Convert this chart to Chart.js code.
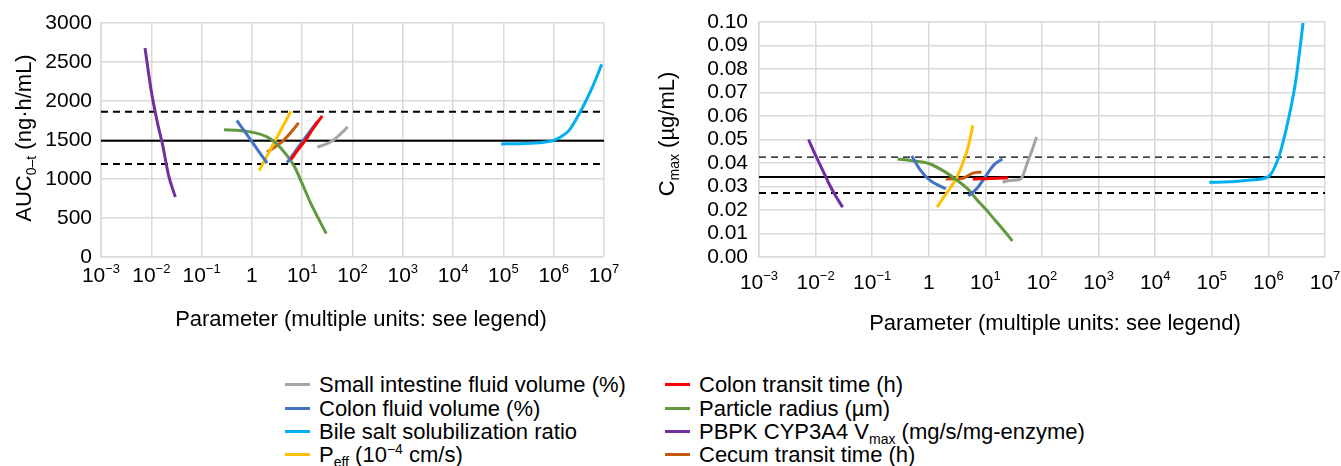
<!DOCTYPE html>
<html>
<head>
<meta charset="utf-8">
<script src="https://cdn.jsdelivr.net/npm/chart.js@4.4.1/dist/chart.umd.min.js"></script>
<style>
  html, body { margin: 0; padding: 0; background: #fff; }
  body { width: 1341px; height: 466px; position: relative; overflow: hidden;
         font-family: 'Liberation Sans', Arial, sans-serif; color: #000; }
  #auc-chart { position: absolute; left: 0; top: 0; }
  #cmax-chart { position: absolute; left: 650px; top: 0; }
  .legend-item { position: absolute; height: 23.3px; line-height: 23.3px; font-size: 22px;
                 padding-left: 34px; white-space: nowrap; }
  .legend-item .swatch { position: absolute; left: 0; top: 10px; width: 25px; height: 3px; }
  sub, sup { font-size: 14px; line-height: 0; }
</style>
</head>
<body>
<canvas id="auc-chart" width="650" height="360"></canvas>
<canvas id="cmax-chart" width="691" height="360"></canvas>
<div id="legend"></div>
<script>
// axis ticks
const xTicks = [1e-3, 1e-2, 1e-1, 1, 1e1, 1e2, 1e3, 1e4, 1e5, 1e6, 1e7];
const xTickExps = [-3, -2, -1, 0, 1, 2, 3, 4, 5, 6, 7];
const yTicksAuc = [0, 500, 1000, 1500, 2000, 2500, 3000];
const yTicksCmax = [0, 0.01, 0.02, 0.03, 0.04, 0.05, 0.06, 0.07, 0.08, 0.09, 0.1];

// reference lines: lower bound, baseline, upper bound
const aucRefLines = [1192, 1490, 1862];
const cmaxRefLines = [0.0272, 0.034, 0.0425];

// parameter values and results per series
const xSmallInt = [20, 28, 40, 45, 56, 68, 80];
const aucSmallInt = [1410, 1440, 1490, 1515, 1570, 1620, 1670];
const cmaxSmallInt = [0.0319, 0.0326, 0.0330, 0.0342, 0.0406, 0.0460, 0.0511];

const xColonTransit = [6, 8, 12, 16, 25];
const aucColonTransit = [1250, 1363, 1510, 1635, 1810];
const cmaxColonTransit = [0.0332, 0.0333, 0.0334, 0.0335, 0.0336];

const xColonFluid = [0.5, 0.7, 1, 1.4, 2, 3, 5, 7, 10, 14, 20];
const aucColonFluid = [1750, 1620, 1480, 1345, 1205, null, 1209, 1338, 1475, 1603, 1740];
const cmaxColonFluid = [0.0430, 0.0372, 0.0330, 0.0308, 0.0290, null, 0.0260, 0.0290, 0.0342, 0.0391, 0.0417];

const xParticle = [0.28, 0.5, 1, 2, 3, 5, 7, 10, 15, 20, 30];
const aucParticle = [1630, 1625, 1600, 1540, 1460, 1300, 1160, 940, 680, 520, 300];
const cmaxParticle = [0.0417, 0.0410, 0.0398, 0.0360, 0.0330, 0.0287, 0.0245, 0.0205, 0.0155, 0.0120, 0.0068];

const xBile = [9e4, 2e5, 5e5, 1e6, 1.5e6, 2e6, 3e6, 4.1e6, 6e6, 9e6];
const aucBile = [1450, 1452, 1465, 1495, 1555, 1620, 1800, 1965, 2190, 2470];
const cmaxBile = [0.0318, 0.0320, 0.0328, 0.0342, 0.0420, 0.0530, 0.0740, 0.0996];

const xVmax = [0.0075, 0.01, 0.013, 0.017, 0.022, 0.03];
const aucVmax = [2680, 2124, 1746, 1420, 1050, 770];
const cmaxVmax = [0.0500, 0.0432, 0.0375, 0.0315, 0.0265, 0.0212];

const xPeff = [1.4, 2, 3, 4, 5, 6];
const aucPeff = [1110, 1296, 1508, 1658, 1775, 1870];
const cmaxPeff = [0.0212, 0.0268, 0.0331, 0.0400, 0.0472, 0.0560];

const xCecum = [2, 3, 4, 6, 8.5];
const aucCecum = [1345, 1420, 1480, 1600, 1720];
const cmaxCecum = [0.0332, 0.0332, 0.0335, 0.0357, 0.0362];

const series = [
  { label: 'Small intestine fluid volume (%)', color: '#A5A5A5', x: xSmallInt, auc: aucSmallInt, cmax: cmaxSmallInt },
  { label: 'Colon transit time (h)', color: '#FF0000', x: xColonTransit, auc: aucColonTransit, cmax: cmaxColonTransit },
  { label: 'Colon fluid volume (%)', color: '#4472C4', x: xColonFluid, auc: aucColonFluid, cmax: cmaxColonFluid },
  { label: 'Particle radius (µm)', color: '#62993E', x: xParticle, auc: aucParticle, cmax: cmaxParticle },
  { label: 'Bile salt solubilization ratio', color: '#00B0F0', x: xBile, auc: aucBile, cmax: cmaxBile },
  { label: 'PBPK CYP3A4 V<sub>max</sub> (mg/s/mg-enzyme)', color: '#7030A0', x: xVmax, auc: aucVmax, cmax: cmaxVmax },
  { label: 'P<sub>eff</sub> (10<sup>−4</sup> cm/s)', color: '#FFC000', x: xPeff, auc: aucPeff, cmax: cmaxPeff },
  { label: 'Cecum transit time (h)', color: '#C55A11', x: xCecum, auc: aucCecum, cmax: cmaxCecum },
];

const xTitle = 'Parameter (multiple units: see legend)';
const FONT = "'Liberation Sans', Arial, sans-serif";

Chart.defaults.font.family = FONT;
Chart.defaults.color = '#000';

/**
 * Draw a line of text with optional sub/superscript parts, centred on x
 */
const drawRich = (ctx, parts, x, y, angle, base) => {
  ctx.save();
  ctx.translate(x, y);
  ctx.rotate(angle);
  ctx.textBaseline = 'alphabetic';
  ctx.textAlign = 'left';
  ctx.fillStyle = '#000';
  const spans = parts.map((p) => {
    const size = p.sup ? 13 : p.sub ? 14 : base;
    const font = size + 'px ' + FONT;
    ctx.font = font;
    return { t: p.t, font, w: ctx.measureText(p.t).width, dy: p.sup ? -9 : p.sub ? 5 : 0 };
  });
  let cx = -spans.reduce((s, p) => s + p.w, 0) / 2;
  spans.forEach((p) => {
    ctx.font = p.font;
    ctx.fillText(p.t, cx, p.dy);
    cx += p.w;
  });
  ctx.restore();
};

const axisText = {
  id: 'axisText',
  afterDraw(chart, args, opts) {
    const ctx = chart.ctx;
    const xs = chart.scales.x;
    xTicks.forEach((v, i) => {
      const e = xTickExps[i];
      const parts = e === 0 ? [{ t: '1' }] : [{ t: '10' }, { t: e < 0 ? '−' + (-e) : String(e), sup: true }];
      drawRich(ctx, parts, xs.getPixelForValue(v), opts.tickY, 0, 21);
    });
    drawRich(ctx, [{ t: xTitle }], opts.titleX, opts.titleY, 0, 22);
    drawRich(ctx, opts.yTitle, opts.yTitleX, opts.yTitleY, -Math.PI / 2, 22);
  },
};

const points = (xs, ys) => ys.map((y, i) => ({ x: xs[i], y: y }));

const refDataset = (value, dash, width) => ({
  data: [{ x: xTicks[0], y: value }, { x: xTicks[xTicks.length - 1], y: value }],
  borderColor: '#000',
  borderWidth: width,
  borderDash: dash,
  tension: 0,
});

/**
 * Build one of the two sensitivity charts
 */
const drawChart = (id, key, yTicks, refLines, cfg) => {
  const element = document.getElementById(id);
  const datasets = series.map((s) => ({
    label: s.label,
    data: points(s.x, s[key]),
    borderColor: s.color,
    backgroundColor: s.color,
  }));
  datasets.push(refDataset(refLines[0], [7, 5], cfg.lowDash));
  datasets.push(refDataset(refLines[1], [], 2));
  datasets.push(refDataset(refLines[2], [7, 5], cfg.highDash));

  const gridStyle = { color: '#d9d9d9', lineWidth: 1.5, drawTicks: false };
  const borderStyle = { color: '#d9d9d9', width: 1.5 };

  return new Chart(element, {
    type: 'line',
    data: { datasets },
    options: {
      responsive: false,
      animation: false,
      spanGaps: false,
      layout: { padding: { left: 0, top: cfg.top, right: cfg.right, bottom: 0 } },
      elements: {
        point: { radius: 0 },
        line: { borderWidth: 3, tension: 0.4, cubicInterpolationMode: 'monotone' },
      },
      plugins: {
        legend: { display: false },
        tooltip: { enabled: false },
        axisText: cfg.text,
      },
      scales: {
        x: {
          type: 'logarithmic',
          min: xTicks[0],
          max: xTicks[xTicks.length - 1],
          afterBuildTicks: (s) => { s.ticks = xTicks.map((v) => ({ value: v })); },
          afterFit: (s) => { s.height = element.height - 257; },
          ticks: { display: false },
          grid: gridStyle,
          border: borderStyle,
        },
        y: {
          min: yTicks[0],
          max: yTicks[yTicks.length - 1],
          afterBuildTicks: (s) => { s.ticks = yTicks.map((v) => ({ value: v })); },
          afterFit: (s) => { s.width = cfg.yWidth; },
          ticks: {
            autoSkip: false,
            padding: cfg.tickPad,
            font: { size: 21, lineHeight: 1 },
            color: '#000',
            callback: cfg.fmt,
          },
          grid: gridStyle,
          border: borderStyle,
        },
      },
    },
    plugins: [axisText],
  });
};

drawChart('auc-chart', 'auc', yTicksAuc, aucRefLines, {
  top: 23, right: 46, yWidth: 101, tickPad: 9, lowDash: 2, highDash: 2,
  fmt: (v) => String(v),
  text: {
    tickY: 282, titleX: 361, titleY: 326,
    yTitle: [{ t: 'AUC' }, { t: '0–t', sub: true }, { t: ' (ng·h/mL)' }],
    yTitleX: 31, yTitleY: 138,
  },
});

drawChart('cmax-chart', 'cmax', yTicksCmax, cmaxRefLines, {
  top: 22, right: 16, yWidth: 109, tickPad: 11, lowDash: 2, highDash: 1.2,
  fmt: (v) => v.toFixed(2),
  text: {
    tickY: 289, titleX: 405, titleY: 330,
    yTitle: [{ t: 'C' }, { t: 'max', sub: true }, { t: ' (µg/mL)' }],
    yTitleX: 24, yTitleY: 134,
  },
});

// legend, two columns filled row by row
const legend = document.getElementById('legend');
series.forEach((s, i) => {
  const item = document.createElement('div');
  item.className = 'legend-item';
  item.style.left = (i % 2 ? 665 : 285) + 'px';
  item.style.top = (373.3 + Math.floor(i / 2) * 23.3) + 'px';
  item.innerHTML = '<span class="swatch" style="background:' + s.color + '"></span>' + s.label;
  legend.appendChild(item);
});
</script>
</body>
</html>
